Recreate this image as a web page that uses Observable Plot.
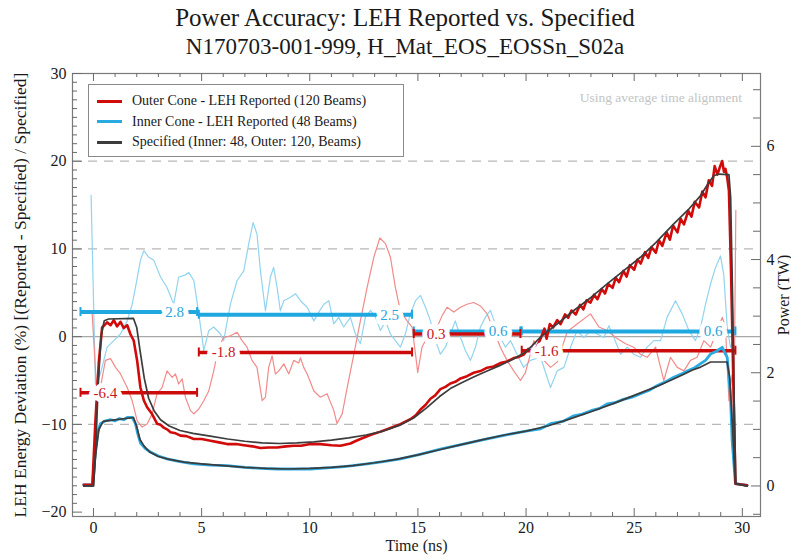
<!DOCTYPE html>
<html>
<head>
<meta charset="utf-8">
<script src="https://cdn.jsdelivr.net/npm/d3@7"></script>
<script src="https://cdn.jsdelivr.net/npm/@observablehq/plot@0.6"></script>
<style>
  body { margin: 0; background: #fff; }
  #wrap { position: relative; width: 791px; height: 560px; overflow: hidden;
          font-family: "Liberation Serif", "Times New Roman", serif; color: #1a1a1a; }
  #chart { position: absolute; left: 0; top: 0; }
  .title { position: absolute; left: 0; width: 810px; text-align: center; white-space: nowrap; line-height: normal; }
  #t1 { top: 4px; font-size: 25px; }
  #t2 { top: 34px; font-size: 23px; }
  #legend { position: absolute; left: 88px; top: 84px; width: 316px; height: 73px; box-sizing: border-box;
            border: 1px solid #8a8a8a; background: #fff; font-size: 14px; padding-top: 6px; }
  .row { display: flex; align-items: center; height: 20.5px; }
  .swatch { width: 25px; height: 3px; margin-left: 8px; margin-right: 10px; }
  #note { position: absolute; right: 49px; top: 90px; font-size: 13.5px; color: #c4c4c4; white-space: nowrap; }
</style>
</head>
<body>
<div id="wrap">
  <div id="chart"></div>
  <div class="title" id="t1">Power Accuracy: LEH Reported vs. Specified</div>
  <div class="title" id="t2">N170703-001-999, H_Mat_EOS_EOSSn_S02a</div>
  <div id="legend"></div>
  <div id="note">Using average time alignment</div>
</div>
<script>
// ---- Laser power (TW) vs time (ns) ----
const outerT = [-0.45,-0.05,0.09,0.25,0.4,0.63,0.79,0.94,1.09,1.25,1.4,1.56,1.71,1.86,2.02,2.17,2.33,2.48,2.71,2.94,3.1,3.25,3.4,3.56,3.8,4.02,4.3,4.64,5.0,5.41,5.8,6.18,6.6,6.95,7.35,7.72,8.1,8.49,8.9,9.26,9.6,10.03,10.49,11.0,11.42,11.88,12.1,12.34,12.8,13.27,13.7,14.19,14.65,14.9,15.12,15.35,15.58,15.8,16.04,16.27,16.5,16.73,16.97,17.27,17.58,17.89,18.2,18.5,18.81,19.12,19.43,19.66,19.89,20.1,20.3,20.5,20.67,20.85,20.95,21.1,21.25,21.44,21.6,21.8,21.95,22.1,22.3,22.5,22.65,22.8,22.98,23.15,23.3,23.5,23.65,23.8,24.0,24.15,24.3,24.5,24.65,24.8,25.0,25.15,25.3,25.5,25.65,25.8,26.0,26.15,26.3,26.5,26.65,26.8,27.0,27.15,27.3,27.5,27.65,27.8,28.0,28.15,28.3,28.45,28.6,28.72,28.85,28.95,29.07,29.15,29.22,29.3,29.38,29.48,29.61,29.68,30.22];
const outerP = [0.02,0.02,1.15,2.2,2.8,2.89,2.84,2.93,2.82,2.9,2.79,2.84,2.68,2.57,2.21,1.74,1.51,1.39,1.27,1.1,1.08,1.03,1.0,0.95,0.93,0.89,0.88,0.83,0.83,0.8,0.77,0.74,0.74,0.72,0.7,0.67,0.68,0.68,0.7,0.71,0.71,0.74,0.74,0.72,0.71,0.75,0.79,0.83,0.9,0.96,1.02,1.09,1.18,1.25,1.35,1.43,1.54,1.6,1.71,1.75,1.81,1.84,1.9,1.94,2.0,2.03,2.09,2.11,2.17,2.2,2.26,2.28,2.32,2.42,2.36,2.45,2.6,2.78,2.6,2.86,2.8,2.93,2.86,3.03,2.97,3.1,3.03,3.2,3.12,3.28,3.24,3.38,3.3,3.48,3.4,3.57,3.5,3.68,3.6,3.8,3.7,3.9,3.82,4.0,3.93,4.13,4.03,4.22,4.12,4.34,4.24,4.48,4.35,4.6,4.48,4.72,4.62,4.86,4.76,5.02,4.92,5.2,5.1,5.4,5.3,5.65,5.5,5.62,5.74,5.55,5.6,5.45,5.22,3.75,1.39,0.04,0.01];

const innerT = [-0.45,-0.05,0.09,0.2,0.32,0.55,0.8,1.0,1.2,1.4,1.56,1.79,1.94,2.05,2.17,2.4,2.63,3.0,3.4,4.0,4.64,5.4,6.18,7.0,7.72,8.5,9.3,10.03,10.8,11.6,12.65,13.4,14.19,15.1,16.04,17.1,18.2,19.2,20.0,20.67,21.13,21.7,22.21,22.6,23.0,23.4,23.75,24.1,24.5,24.9,25.29,25.7,26.0,26.4,26.83,27.2,27.5,27.8,28.07,28.3,28.53,28.8,29.07,29.3,29.45,29.53,29.68,30.22];
const innerP = [0.02,0.02,0.62,0.95,1.1,1.15,1.17,1.15,1.19,1.17,1.21,1.21,1.1,0.92,0.76,0.66,0.6,0.53,0.48,0.43,0.39,0.37,0.36,0.33,0.31,0.3,0.3,0.3,0.32,0.34,0.39,0.43,0.48,0.56,0.65,0.74,0.83,0.91,0.97,1.01,1.1,1.14,1.24,1.27,1.33,1.37,1.45,1.47,1.53,1.57,1.63,1.69,1.76,1.83,1.92,1.98,2.04,2.09,2.16,2.22,2.33,2.38,2.45,2.27,1.6,0.8,0.04,0.01];

const specOuterT = [-0.45,0.0,0.1,0.22,0.35,0.5,0.7,1.85,2.0,2.15,2.35,2.55,2.8,3.1,3.5,4.0,4.6,5.4,6.2,7.0,7.8,8.6,9.4,10.2,11.0,11.8,12.6,13.4,14.2,14.8,15.4,16.0,16.5,17.0,17.6,18.2,18.8,19.4,20.0,20.67,21.4,22.21,23.0,23.75,24.5,25.29,26.0,26.83,27.5,28.07,28.4,28.68,28.9,29.38,29.46,29.55,29.62,29.7,30.22];
const specOuterP = [0,0,0.6,1.8,2.65,2.92,2.95,2.96,2.8,2.4,1.9,1.55,1.33,1.17,1.06,0.98,0.93,0.88,0.83,0.79,0.76,0.75,0.76,0.78,0.81,0.85,0.9,0.97,1.08,1.2,1.38,1.58,1.72,1.82,1.93,2.03,2.13,2.24,2.37,2.63,2.85,3.1,3.33,3.57,3.8,4.04,4.3,4.63,4.88,5.13,5.33,5.48,5.51,5.5,5.1,3.3,1.5,0.04,0];

const specInnerT = [-0.45,0.0,0.1,0.25,0.45,0.8,1.85,2.0,2.15,2.35,2.6,3.0,3.5,4.2,5.0,6.0,7.0,8.0,9.0,10.0,11.0,12.0,13.0,14.0,15.0,16.0,17.0,18.0,19.0,20.0,21.0,22.0,23.0,24.0,25.0,26.0,27.0,27.7,28.07,28.53,29.3,29.42,29.55,29.68,30.22];
const specInnerP = [0,0,0.55,1.0,1.14,1.16,1.21,1.05,0.82,0.7,0.6,0.52,0.47,0.42,0.39,0.36,0.33,0.31,0.3,0.31,0.33,0.36,0.41,0.47,0.55,0.64,0.73,0.82,0.9,0.97,1.06,1.18,1.31,1.45,1.6,1.75,1.92,2.05,2.1,2.19,2.19,1.9,1.0,0.04,0];

// ---- LEH energy deviation (%) vs time (ns) ----
const devOuterT = [-0.06,0.14,0.32,0.55,0.79,1.02,1.25,1.56,1.79,2.02,2.25,2.48,2.71,2.94,3.17,3.4,3.64,3.79,3.94,4.1,4.25,4.48,4.64,4.87,5.1,5.33,5.56,5.79,6.02,6.33,6.64,6.87,7.1,7.33,7.56,7.8,7.95,8.1,8.26,8.41,8.57,8.8,9.03,9.26,9.49,9.57,9.72,9.88,10.19,10.49,10.8,11.11,11.26,11.5,11.73,12.04,12.34,12.65,12.96,13.24,13.5,13.73,13.96,14.19,14.5,14.73,14.89,14.99,15.19,15.42,15.66,15.89,16.12,16.35,16.66,16.97,17.27,17.58,17.89,18.2,18.51,18.81,19.12,19.43,19.74,19.97,20.2,20.36,20.6,20.82,21.13,21.44,21.9,22.36,22.98,23.37,23.75,24.14,24.6,24.98,25.29,25.6,25.99,26.37,26.68,26.99,27.3,27.6,27.91,28.22,28.53,28.84,29.07,29.22,29.38,29.53,29.62,29.7];
const devOuterV = [2.6,-5.8,-5.8,-2.7,-2.5,-3.5,-4.25,-5.8,-7.3,-9.6,-10.3,-9.95,-8.8,-6.5,-5.8,-3.9,-4.65,-4.25,-5.4,-4.8,-6.9,-8.4,-8.8,-8.25,-7.3,-6.2,-3.9,-1.2,-0.1,0.1,0.5,-0.45,-1.2,-2.7,-3.5,-7.3,-6.9,-3.5,-2.2,-4.25,-3.9,-3.1,-4.25,-2.7,-3.0,-2.4,-3.5,-4.25,-6.2,-6.9,-6.5,-8.4,-9.9,-8.8,-5.8,-2.0,1.8,5.6,9.05,11.25,10.6,9.05,5.6,2.95,1.8,1.1,-2.0,-4.1,-1.2,-0.1,0.7,1.1,2.4,3.35,2.8,3.35,3.7,3.9,3.5,2.6,0.7,-1.2,-2.7,-3.9,-5.0,-4.1,-2.0,-0.45,-1.5,-2.7,-3.5,-2.9,0.55,1.45,2.6,1.1,0.7,-0.1,-0.8,-1.2,-2.0,-2.35,-1.2,-5.0,-2.35,-3.5,-3.9,-2.7,-2.35,-0.45,-1.2,0.7,2.2,1.1,-7.3,-4.3,-7.0,14.4];

const devInnerT = [-0.11,0.09,0.32,0.63,0.94,1.25,1.56,1.79,1.94,2.17,2.33,2.56,2.79,3.1,3.4,3.71,3.94,4.17,4.41,4.64,4.87,5.1,5.33,5.56,5.87,6.02,6.33,6.64,6.95,7.18,7.38,7.56,7.72,7.95,8.18,8.33,8.49,8.64,8.8,9.11,9.34,9.57,9.88,10.19,10.42,10.65,10.88,11.11,11.34,11.57,11.88,12.11,12.34,12.57,12.81,13.04,13.27,13.5,13.73,13.96,14.19,14.42,14.65,14.89,15.12,15.35,15.58,15.81,16.04,16.27,16.5,16.73,16.97,17.2,17.43,17.66,17.89,18.12,18.35,18.58,18.81,19.05,19.28,19.58,19.89,20.2,20.67,21.13,21.44,21.75,22.06,22.36,22.67,22.98,23.29,23.6,23.83,24.06,24.37,24.68,24.98,25.29,25.6,25.91,26.22,26.52,26.91,27.22,27.53,27.83,28.07,28.3,28.53,28.76,28.99,29.14,29.3,29.45,29.6];
const devInnerV = [16.1,-5.4,-4.25,-1.2,-0.45,0.3,1.8,3.7,5.6,8.7,9.8,9.05,8.7,6.8,5.6,3.7,6.8,6.95,7.3,6.4,2.6,-1.6,0.7,1.1,0.3,-0.45,3.7,6.4,7.5,10.6,13.0,11.7,7.5,2.95,6.8,7.9,5.6,2.95,4.1,4.5,4.9,4.1,3.35,1.8,2.8,3.7,4.1,1.45,2.2,1.1,2.2,0.3,-0.8,2.2,3.0,2.2,0.7,1.8,0.3,-0.45,-1.2,0.3,2.6,4.1,4.7,3.35,1.8,-0.45,-2.0,-1.2,0.3,1.8,-0.1,-1.6,-2.7,-1.2,1.1,2.2,3.0,1.45,-0.1,-1.2,-0.45,-2.0,-3.5,-2.7,-2.35,-5.8,-3.9,-3.5,-1.2,0.7,-0.1,0.7,0.3,-0.1,1.25,-0.1,-2.0,-1.2,-2.0,-2.35,-1.2,-0.45,-0.45,2.2,4.1,2.6,0.7,-0.45,1.1,3.7,6.0,7.9,9.2,7.1,1.1,-1.2,-0.45];

// ---- Per-window mean deviation (%) ----
const segStart = [-0.6, 4.87, 14.81, 19.8];
const segEnd = [4.79, 14.73, 19.74, 29.68];
const innerMean = [2.8, 2.5, 0.6, 0.6];
const outerMean = [-6.4, -1.8, 0.3, -1.6];

// ---- Axis ticks ----
const xMajor = [0, 5, 10, 15, 20, 25, 30];
const yMajor = [-20, -10, 0, 10, 20, 30];
const powerMajor = [0, 2, 4, 6];
const dashedLevels = [20, 10, -10];

const legendItems = [
  {label: "Outer Cone - LEH Reported (120 Beams)", color: "#d10a0a"},
  {label: "Inner Cone - LEH Reported (48 Beams)", color: "#29aae1"},
  {label: "Specified (Inner: 48, Outer: 120, Beams)", color: "#3c3c3c"}
];

// Power (TW) shares the frame with the deviation axis (%)
const P0 = -17.02, PK = 6.453;
const toPct = p => P0 + PK * p;

const W = 791, H = 560, mt = 73, mb = 44, ml = 72, mr = 31;
const xDom = [-0.97, 30.84], yDom = [-20.5, 30];
const kx = (xDom[1] - xDom[0]) / (W - ml - mr);   // ns per px
const ky = (yDom[1] - yDom[0]) / (H - mt - mb);   // % per px

const series = (T, V) => T.map((t, i) => ({t, v: V[i]}));
const outer = series(outerT, outerP);
const inner = series(innerT, innerP);
const specOuter = series(specOuterT, specOuterP);
const specInner = series(specInnerT, specInnerP);
const devOuter = series(devOuterT, devOuterV);
const devInner = series(devInnerT, devInnerV);
const segs = segStart.map((s, i) => ({s, e: segEnd[i], inner: innerMean[i], outer: outerMean[i]}));

const xMinor = d3.range(0, 31).filter(d => d % 5 !== 0);
const yMinor = d3.range(-20, 31).filter(d => d % 10 !== 0);
const pMinor = d3.range(-0.5, 7.01, 0.5).filter(d => d % 2 !== 0);

const C = {
  red: "#d10a0a", blue: "#29aae1", gray: "#3c3c3c",
  lightRed: "#f28b8b", lightBlue: "#92d4ef",
  barRed: "#cc0a0a", barBlue: "#1fa7e0", tick: "#6a6a6a"
};

const caps = field => segs.flatMap(d => [d.s, d.e].map(x => ({x, y: d[field]})));

const chart = Plot.plot({
  width: W, height: H,
  marginTop: mt, marginBottom: mb, marginLeft: ml, marginRight: mr,
  style: {fontFamily: "'Liberation Serif', 'Times New Roman', serif", fontSize: "16px", color: "#1a1a1a", background: "transparent"},
  x: {domain: xDom},
  y: {domain: yDom},
  marks: [
    // reference levels
    Plot.ruleY(dashedLevels, {stroke: "#b8b8b8", strokeWidth: 1.2, strokeDasharray: "9,7"}),
    Plot.ruleY([0], {stroke: "#a8a8a8", strokeWidth: 1.4}),

    // energy deviation traces
    Plot.line(devInner, {x: "t", y: "v", stroke: C.lightBlue, strokeWidth: 1.2}),
    Plot.line(devOuter, {x: "t", y: "v", stroke: C.lightRed, strokeWidth: 1.2}),

    // window means: bars with end caps
    Plot.ruleY(segs, {y: "inner", x1: "s", x2: "e", stroke: C.barBlue, strokeWidth: 4}),
    Plot.ruleX(caps("inner"), {x: "x", y1: d => d.y - 4.5 * ky, y2: d => d.y + 4.5 * ky, stroke: C.barBlue, strokeWidth: 2}),
    Plot.ruleY(segs, {y: "outer", x1: "s", x2: "e", stroke: C.barRed, strokeWidth: 3.5}),
    Plot.ruleX(caps("outer"), {x: "x", y1: d => d.y - 4.5 * ky, y2: d => d.y + 4.5 * ky, stroke: C.barRed, strokeWidth: 2}),

    // power traces
    Plot.line(inner, {x: "t", y: d => toPct(d.v), stroke: C.blue, strokeWidth: 2.8}),
    Plot.line(outer, {x: "t", y: d => toPct(d.v), stroke: C.red, strokeWidth: 2.6}),
    Plot.line(specInner, {x: "t", y: d => toPct(d.v), stroke: C.gray, strokeWidth: 1.7}),
    Plot.line(specOuter, {x: "t", y: d => toPct(d.v), stroke: C.gray, strokeWidth: 1.7}),

    // window mean labels
    Plot.text(segs, {x: "e", y: "inner", text: d => d.inner.toFixed(1), textAnchor: "end", dx: -13,
      fill: "#2aa5dc", stroke: "white", strokeWidth: 10, paintOrder: "stroke", fontSize: 15}),
    Plot.text(segs, {x: "s", y: "outer", text: d => d.outer.toFixed(1), textAnchor: "start", dx: 13,
      fill: "#c8141e", stroke: "white", strokeWidth: 10, paintOrder: "stroke", fontSize: 15}),

    // frame and inward ticks
    Plot.frame({stroke: "#7a7a7a", strokeWidth: 1.2}),
    Plot.ruleX(xMajor, {x: d => d, y1: yDom[0], y2: yDom[0] + 8 * ky, stroke: C.tick}),
    Plot.ruleX(xMinor, {x: d => d, y1: yDom[0], y2: yDom[0] + 4 * ky, stroke: C.tick}),
    Plot.ruleX(xMajor, {x: d => d, y1: yDom[1], y2: yDom[1] - 8 * ky, stroke: C.tick}),
    Plot.ruleX(xMinor, {x: d => d, y1: yDom[1], y2: yDom[1] - 4 * ky, stroke: C.tick}),
    Plot.ruleY(yMajor, {y: d => d, x1: xDom[0], x2: xDom[0] + 10 * kx, stroke: C.tick}),
    Plot.ruleY(yMinor, {y: d => d, x1: xDom[0], x2: xDom[0] + 5 * kx, stroke: C.tick}),
    Plot.ruleY(powerMajor, {y: d => toPct(d), x1: xDom[1] - 9 * kx, x2: xDom[1], stroke: C.tick}),
    Plot.ruleY(pMinor, {y: d => toPct(d), x1: xDom[1] - 7 * kx, x2: xDom[1], stroke: C.tick}),

    // tick labels
    Plot.axisX({ticks: xMajor, tickSize: 0, tickPadding: 5, label: null}),
    Plot.axisY({ticks: yMajor, tickSize: 0, tickPadding: 6, label: null}),
    Plot.axisY({anchor: "right", ticks: powerMajor.map(toPct), tickSize: 0, tickPadding: 6, label: null,
      tickFormat: d => String(Math.round((d - P0) / PK))}),

    // axis titles
    Plot.text(["Time (ns)"], {frameAnchor: "bottom", dy: 34, fontSize: 16}),
    Plot.text(["LEH Energy Deviation (%) [(Reported - Specified) / Specified]"],
      {frameAnchor: "left", textAnchor: "middle", rotate: -90, dx: -52, fontSize: 17.5}),
    Plot.text(["Power (TW)"], {frameAnchor: "right", textAnchor: "middle", rotate: -90, dx: 23, fontSize: 16})
  ]
});
document.getElementById("chart").appendChild(chart);

// legend
const legend = d3.select("#legend");
legendItems.forEach(item => {
  const row = legend.append("div").attr("class", "row");
  row.append("div").attr("class", "swatch").style("background", item.color);
  row.append("span").text(item.label);
});
</script>
</body>
</html>
